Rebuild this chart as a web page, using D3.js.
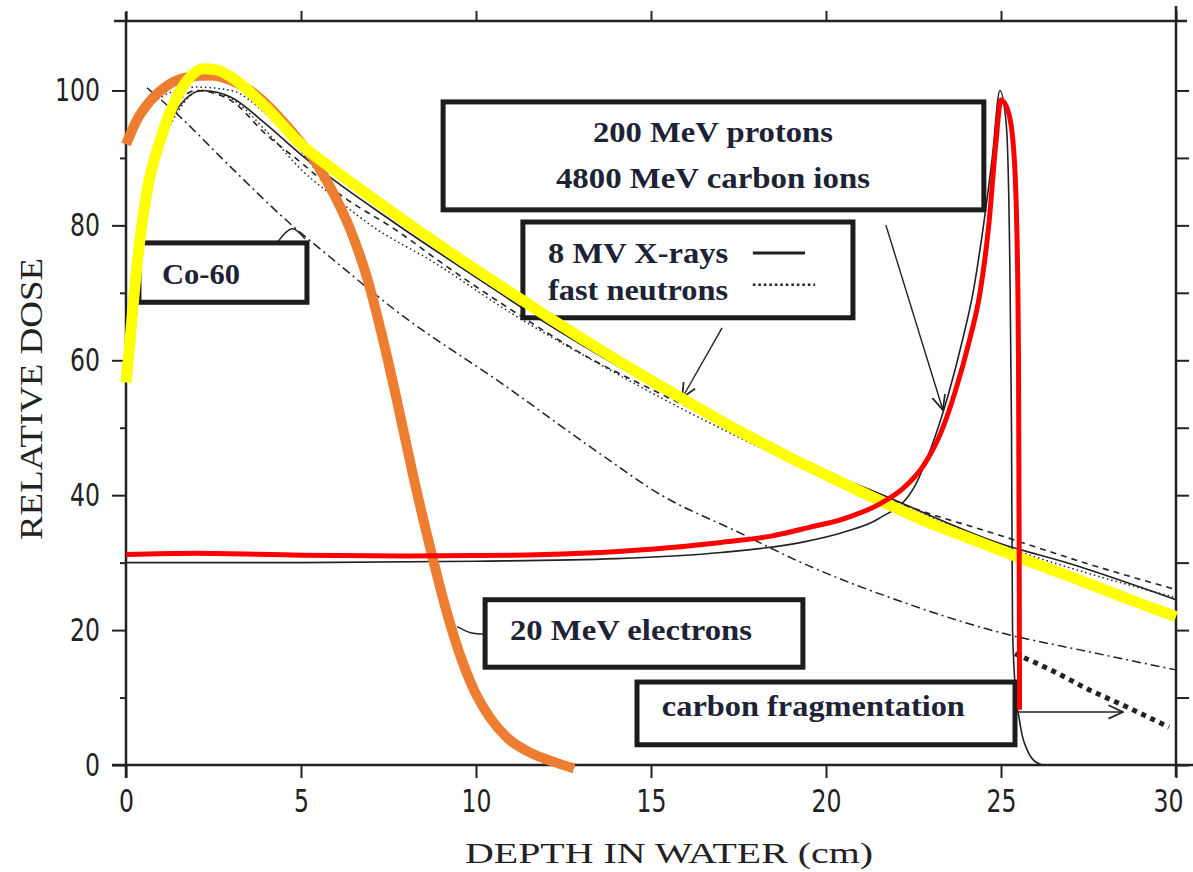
<!DOCTYPE html>
<html>
<head>
<meta charset="utf-8">
<script src="https://cdn.jsdelivr.net/npm/d3@7"></script>
<style>
body { margin: 0; background: #fff; }
</style>
</head>
<body>
<svg id="chart" width="1193" height="872"></svg>
<script>
// depth in water (cm), relative dose
var xray8MV = [[0.4,76],[0.7,86],[1.0,92],[1.5,97.5],[2.2,100],[3,99],[4,95],[5,90.5],[6,86.5],[7,82.8],[8,79.2],[10,72.3],[12,65.5],[14,59.3],[16.4,52.5],[19.3,45],[21.5,40.3],[25,32.8],[27,29.8],[30,24.5]];
var fastNeutrons = [[0.8,90],[1.0,92],[1.5,97],[2.1,100],[3,98.8],[4,94],[5,88.3],[6,84],[7,80],[8.8,74.5],[11,67],[13.5,59.5],[16,52.5],[19,45],[22,38.8],[25,32.6],[30,24.8]];
var dashedCurve = [[1.5,98.5],[2.0,100],[3,98.5],[4,93.5],[5,89.3],[6,85],[7.8,79],[9,74.5],[11,67.5],[13.5,59.6],[14.5,57],[16,53.2],[19,46],[22,39],[25,34],[27.5,29.8],[30,26]];
var cobalt60 = [[0.6,100.4],[1.5,96.3],[3,88.6],[4.7,80.2],[5.9,75],[7.8,67],[10.7,56.7],[13.5,46.3],[15.3,40],[17.5,34.5],[19.3,30],[22,24.5],[25,19.6],[27.5,16.8],[30,14.1]];
var electrons20MeV = [[0.6,97.5],[1,99],[2,100.5],[3,100],[4,96.5],[5,91],[5.8,85],[6.4,78.5],[6.9,71],[7.3,63],[7.7,54],[8.2,42],[8.7,31],[9.2,21],[9.6,14.5],[10,9.5],[10.5,5.5],[11.3,2.2],[12.3,0.5],[13,0]];
var protonBragg = [[0,30],[5,30],[10,30.2],[14,30.6],[17,31.5],[19.3,33],[20.5,34.5],[21.5,36.5],[22.5,41],[23.0,47],[23.5,55],[23.9,63],[24.2,70],[24.5,80],[24.75,90],[24.97,100],[25.15,95],[25.25,75],[25.3,50],[25.33,20],[25.45,9],[25.5,7.5],[25.6,4.5],[25.75,2.2],[25.95,0.6],[26.2,0]];
var carbonTail = [[25.4,16.5],[26.5,13.9],[27.5,11.2],[28.6,8.6],[29.8,5.6]];

// coloured overlays
var yellowOverlay = [[0,56.7],[0.1,62],[0.2,68],[0.4,78],[0.6,85],[1.0,93],[1.4,98.5],[1.8,101.8],[2.2,103.2],[2.6,103],[3,102],[4,97.5],[5,92],[6,88],[7,84.2],[8,80.5],[9,76.9],[10,73.4],[11,70],[12,66.6],[13,63.3],[14,60.1],[15,57],[16,54],[17,51],[18,48.2],[19,45.5],[20,43],[21,40.5],[22,38.1],[23,35.8],[24,33.8],[25,31.8],[26,29.8],[27,27.9],[28,25.9],[29,23.9],[30,22]];
var orangeOverlay = [[0,92],[0.3,95.5],[0.7,98.5],[1.2,100.8],[1.8,102],[2.4,102.2],[3,101.5],[3.6,99.8],[4.2,97],[4.8,93.5],[5.4,89.5],[5.9,85],[6.4,79.5],[6.9,72],[7.3,64],[7.7,55],[8.2,43],[8.7,32],[9.2,22],[9.6,15.5],[10.0,10.5],[10.4,7],[10.9,4],[11.6,1.7],[12.2,0.5],[12.8,-0.5]];
var redOverlay = [[0,31.2],[2,31.4],[5,31.1],[8,31],[11,31.1],[13,31.4],[15,32],[17,33],[18.5,34],[19.5,35.2],[20.5,36.5],[21.5,38.6],[22.2,41],[22.8,44.5],[23.3,49.5],[23.7,55.5],[24.1,63],[24.4,70],[24.65,80],[24.85,92],[25.0,98.6],[25.2,97],[25.35,92],[25.45,80],[25.5,60],[25.52,30],[25.53,8.2]];

var yTicks = [0, 20, 40, 60, 80, 100];
var yMinor = [10, 30, 50, 70, 90];
var xTicks = [0, 5, 10, 15, 20, 25, 30];

// annotation boxes, in data units
var boxes = [
  {x0: 9.06, x1: 24.51, y0: 82.3, y1: 98.3, lines: [{t: "200 MeV protons", x: 16.77, y: 92.4, w: 240, anchor: "middle"}, {t: "4800 MeV carbon ions", x: 16.77, y: 85.5, w: 314, anchor: "middle"}]},
  {x0: 0.37, x1: 5.17, y0: 68.6, y1: 77.4, lines: [{t: "Co-60", x: 1.03, y: 71.3, w: 78, anchor: "start"}]},
  {x0: 11.34, x1: 20.77, y0: 66.3, y1: 80.5, lines: [{t: "8 MV X-rays", x: 12.06, y: 74.4, w: 180, anchor: "start"}, {t: "fast neutrons", x: 12.06, y: 68.9, w: 180, anchor: "start"}]},
  {x0: 10.26, x1: 19.34, y0: 14.5, y1: 24.5, lines: [{t: "20 MeV electrons", x: 10.97, y: 18.5, w: 242, anchor: "start"}]},
  {x0: 14.6, x1: 25.4, y0: 3.0, y1: 12.3, lines: [{t: "carbon fragmentation", x: 15.31, y: 7.3, w: 303, anchor: "start"}]}
];
var arrows = [
  [[21.71, 80.06], [23.34, 52.63]],
  [[17.03, 64.79], [15.89, 54.41]],
  [[25.49, 7.86], [28.49, 7.86]]
];

var svg = d3.select("#chart");
var x = d3.scaleLinear().domain([0, 30]).range([126, 1176]);
var y = d3.scaleLinear().domain([0, 110]).range([765, 23]);
var ink = "#222";

var defs = svg.append("defs");
defs.append("marker")
    .attr("id", "arrowhead")
    .attr("viewBox", "0 -6 12 12")
    .attr("refX", 11)
    .attr("refY", 0)
    .attr("markerWidth", 16)
    .attr("markerHeight", 16)
    .attr("markerUnits", "userSpaceOnUse")
    .attr("orient", "auto")
    .append("path")
      .attr("d", "M0,-5L11,0L0,5")
      .attr("fill", "none")
      .attr("stroke", ink)
      .attr("stroke-width", 1.3);

// frame
var frame = svg.append("g").attr("stroke", ink).attr("stroke-width", 2.5);
frame.append("line").attr("x1", x(0)).attr("x2", x(0)).attr("y1", 12).attr("y2", 778);
frame.append("line").attr("x1", 112).attr("x2", 1193).attr("y1", y(0)).attr("y2", y(0));
frame.append("line").attr("x1", 114).attr("x2", 1187).attr("y1", y(110.3)).attr("y2", y(110.3));
frame.append("line").attr("x1", x(30)).attr("x2", x(30)).attr("y1", 6).attr("y2", 777);

var tickFont = "'Liberation Sans Narrow', 'DejaVu Sans', sans-serif";

var leftAxis = svg.append("g")
    .attr("transform", "translate(" + x(0) + ",0)")
    .call(d3.axisLeft(y).tickValues(yTicks).tickSize(14).tickPadding(12));
leftAxis.selectAll("text")
    .attr("font-family", tickFont)
    .attr("font-size", 32)
    .attr("fill", ink)
    .attr("textLength", function(d) { return String(d).length * 15; })
    .attr("lengthAdjust", "spacingAndGlyphs");

svg.append("g")
    .attr("transform", "translate(" + x(0) + ",0)")
    .call(d3.axisLeft(y).tickValues(yMinor).tickSize(6).tickFormat(""));

var bottomAxis = svg.append("g")
    .attr("transform", "translate(0," + y(0) + ")")
    .call(d3.axisBottom(x).tickValues(xTicks).tickSize(13).tickPadding(11));
bottomAxis.selectAll("text")
    .attr("font-family", tickFont)
    .attr("font-size", 32)
    .attr("fill", ink)
    .attr("dx", function(d) { return d === 30 ? -8 : 0; })
    .attr("textLength", function(d) { return String(d).length * 15; })
    .attr("lengthAdjust", "spacingAndGlyphs");

svg.append("g")
    .attr("transform", "translate(0," + y(110.3) + ")")
    .call(d3.axisTop(x).tickValues(xTicks).tickSize(10).tickFormat(""));

svg.append("g")
    .attr("transform", "translate(" + x(30) + ",0)")
    .call(d3.axisRight(y).tickValues(d3.range(0, 101, 10)).tickSize(13).tickFormat(""));

svg.selectAll(".domain").remove();
svg.selectAll(".tick line").attr("stroke", ink).attr("stroke-width", 2);

// axis titles
svg.append("text")
    .attr("transform", "translate(42,399) rotate(-90)")
    .attr("text-anchor", "middle")
    .attr("font-family", "'Liberation Serif', serif")
    .attr("font-size", 31)
    .attr("fill", ink)
    .attr("textLength", 282)
    .attr("lengthAdjust", "spacingAndGlyphs")
    .text("RELATIVE  DOSE");

svg.append("text")
    .attr("x", 669)
    .attr("y", 863)
    .attr("text-anchor", "middle")
    .attr("font-family", "'Liberation Serif', serif")
    .attr("font-size", 30)
    .attr("fill", ink)
    .attr("textLength", 408)
    .attr("lengthAdjust", "spacingAndGlyphs")
    .text("DEPTH  IN  WATER  (cm)");

// original black curves
var line = d3.line()
    .x(function(d) { return x(d[0]); })
    .y(function(d) { return y(d[1]); })
    .curve(d3.curveMonotoneX);

var curves = svg.append("g").attr("fill", "none").attr("stroke", ink);
curves.append("path").datum(xray8MV).attr("d", line).attr("stroke-width", 1.6);
curves.append("path").datum(fastNeutrons).attr("d", line).attr("stroke-width", 1.5).attr("stroke-dasharray", "1.5,3");
curves.append("path").datum(dashedCurve).attr("d", line).attr("stroke-width", 1.6).attr("stroke-dasharray", "6,5");
curves.append("path").datum(cobalt60).attr("d", line).attr("stroke-width", 1.5).attr("stroke-dasharray", "9,4,2,4");
curves.append("path").datum(electrons20MeV).attr("d", line).attr("stroke-width", 1.5).attr("stroke-dasharray", "1.5,3");
curves.append("path").datum(protonBragg).attr("d", line).attr("stroke-width", 1.6);
curves.append("path").datum(carbonTail).attr("d", line).attr("stroke-width", 5).attr("stroke-dasharray", "5,5");

// little leader marks from boxes to curves
var leader = d3.line()
    .x(function(d) { return x(d[0]); })
    .y(function(d) { return y(d[1]); })
    .curve(d3.curveCardinal);
curves.append("path").datum([[4.34, 77.6], [4.74, 79.5], [5.11, 78.0]]).attr("d", leader).attr("stroke-width", 1.4);
curves.append("path").datum([[9.46, 20.5], [9.85, 19.6], [10.26, 19.4]]).attr("d", leader).attr("stroke-width", 1.4);

// boxes
var boxG = svg.append("g");
boxes.forEach(function(b) {
    boxG.append("rect")
        .attr("x", x(b.x0))
        .attr("y", y(b.y1))
        .attr("width", x(b.x1) - x(b.x0))
        .attr("height", y(b.y0) - y(b.y1))
        .attr("fill", "#fff")
        .attr("stroke", "#1c1c1c")
        .attr("stroke-width", 5);
    b.lines.forEach(function(l) {
        boxG.append("text")
            .attr("x", x(l.x))
            .attr("y", y(l.y))
            .attr("text-anchor", l.anchor)
            .attr("font-family", "'Liberation Serif', 'DejaVu Serif', serif")
            .attr("font-weight", "bold")
            .attr("font-size", 30)
            .attr("fill", "#1e2235")
            .attr("textLength", l.w)
            .attr("lengthAdjust", "spacingAndGlyphs")
            .text(l.t);
    });
});

// legend samples inside the X-ray box
boxG.append("line")
    .attr("x1", x(17.91)).attr("x2", x(19.4))
    .attr("y1", y(75.9)).attr("y2", y(75.9))
    .attr("stroke", ink).attr("stroke-width", 3);
boxG.append("line")
    .attr("x1", x(17.91)).attr("x2", x(19.69))
    .attr("y1", y(71.2)).attr("y2", y(71.2))
    .attr("stroke", ink).attr("stroke-width", 2.5).attr("stroke-dasharray", "2.5,3");

// arrows
svg.append("g").selectAll("line")
    .data(arrows)
    .enter().append("line")
      .attr("x1", function(d) { return x(d[0][0]); })
      .attr("y1", function(d) { return y(d[0][1]); })
      .attr("x2", function(d) { return x(d[1][0]); })
      .attr("y2", function(d) { return y(d[1][1]); })
      .attr("stroke", ink)
      .attr("stroke-width", 1.4)
      .attr("marker-end", "url(#arrowhead)");

// coloured overlays drawn on top
var over = svg.append("g").attr("fill", "none").attr("stroke-linejoin", "round");
over.append("path").datum(orangeOverlay).attr("d", line).attr("stroke", "#ED7D31").attr("stroke-width", 10);
over.append("path").datum(yellowOverlay).attr("d", line).attr("stroke", "#FFFF00").attr("stroke-width", 11);
over.append("path").datum(redOverlay).attr("d", line).attr("stroke", "#FF0000").attr("stroke-width", 5);
</script>
</body>
</html>
